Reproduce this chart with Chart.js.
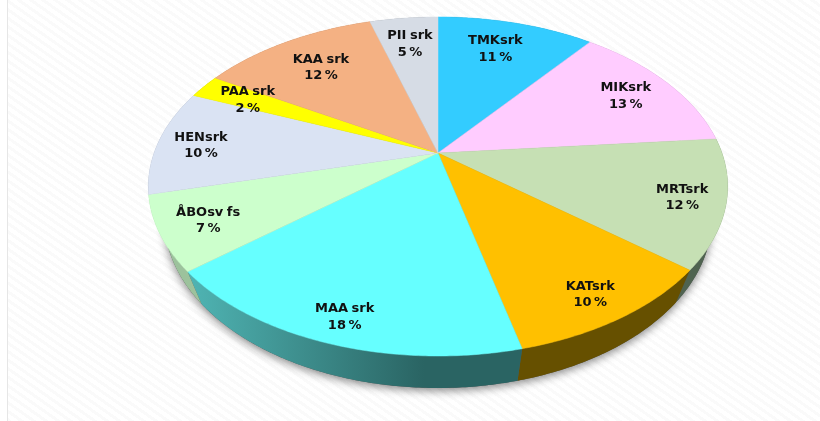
<!DOCTYPE html>
<html>
<head>
<meta charset="utf-8">
<style>
  html, body { margin: 0; padding: 0; background: #fff; }
  #wrap {
    position: relative; width: 820px; height: 421px; overflow: hidden;
    background: repeating-linear-gradient(35deg, #fff 0, #fff 4px, #fafafa 4px, #fafafa 7px);
  }
  #leftEdge { position: absolute; left: 0; top: 0; width: 7px; height: 421px; background: #fff; border-right: 1px solid #e6e6e6; }
  #myChart { position: absolute; left: 0; top: 0; filter: blur(0.4px); }
</style>
</head>
<body>
<div id="wrap">
  <div id="leftEdge"></div>
  <canvas id="myChart" width="820" height="421"></canvas>
</div>
<script src="https://cdn.jsdelivr.net/npm/chart.js@4"></script>
<script>
const categories = ["TMKsrk", "MIKsrk", "MRTsrk", "KATsrk", "MAA srk", "ÅBOsv fs", "HENsrk", "PAA srk", "KAA srk", "PII srk"];
// the labels show them rounded
const shares = [10.6, 13, 12.25, 10.3, 17.85, 7.1, 10.1, 2.25, 11.95, 4.6];

const topColors = ["#33ccff", "#ffccff", "#c6e0b4", "#ffc000", "#66ffff", "#ccffcc", "#dae3f3", "#ffff00", "#f4b183", "#d6dce5"];
const wallColors = ["#1f7a99", "#997a99", "#4f6350", "#665000", "#2a6463", "#9cc29c", "#8a909a", "#999900", "#92694e", "#80848a"];

// where each label sits inside its slice: fraction of radius, nudge in degrees
const labelRadius = [0.78, 0.81, 0.855, 0.865, 0.876, 0.838, 0.846, 0.802, 0.756, 0.791];
const labelNudge = [-1.8, -0.1, 0.1, 0.4, 0, 0.2, -0.2, 0.2, 0.5, 0.0];

// the pie is seen in perspective, so the apex is not the middle of the ellipse
const apexX = 438, apexY = 153;
const scaleX = 284, scaleY = 162.9, tilt = -0.1976;
const depth = 32, lowerShrink = 0.945;

function project(angle, r) {
  const x = Math.cos(angle) * r;
  const y = Math.sin(angle) * r;
  const d = 1 + tilt * y;
  return { x: apexX + scaleX * x / d, y: apexY + scaleY * y / d };
}

function lower(p) {
  return { x: apexX + (p.x - apexX) * lowerShrink, y: p.y + depth };
}

function rimPoints(start, end) {
  let pts = [];
  let steps = Math.max(2, Math.ceil((end - start) / 0.01));
  for (let i = 0; i <= steps; i++) {
    pts.push(project(start + (end - start) * i / steps, 1));
  }
  return pts;
}

function tracePoly(ctx, pts) {
  ctx.beginPath();
  pts.forEach((p, i) => {
    if (i == 0) ctx.moveTo(p.x, p.y);
    else ctx.lineTo(p.x, p.y);
  });
  ctx.closePath();
}

const perspectivePie = {
  id: "perspectivePie",
  beforeDatasetDraw(chart) {
    const ctx = chart.ctx;
    const arcs = chart.getDatasetMeta(0).data;

    // soft shadow under the rim
    ctx.save();
    ctx.shadowColor = "rgba(0,0,0,0.45)";
    ctx.shadowBlur = 9;
    ctx.shadowOffsetY = 3;
    ctx.fillStyle = "#555";
    tracePoly(ctx, rimPoints(0, Math.PI * 2).map(lower));
    ctx.fill();
    ctx.restore();

    // walls
    arcs.forEach((arc, i) => {
      const top = rimPoints(arc.startAngle, arc.endAngle);
      const bottom = top.map(lower).reverse();
      let fill = wallColors[i];
      if (categories[i] == "MAA srk") {
        const grad = ctx.createLinearGradient(190, 0, 450, 0);
        grad.addColorStop(0, "#4fb4b3");
        grad.addColorStop(0.9, wallColors[i]);
        grad.addColorStop(1, wallColors[i]);
        fill = grad;
      }
      ctx.fillStyle = fill;
      tracePoly(ctx, top.concat(bottom));
      ctx.fill();
    });

    // top face
    arcs.forEach((arc, i) => {
      const pts = [{ x: apexX, y: apexY }].concat(rimPoints(arc.startAngle, arc.endAngle));
      ctx.fillStyle = arc.options.backgroundColor;
      ctx.strokeStyle = arc.options.backgroundColor;
      ctx.lineWidth = 0.5;
      tracePoly(ctx, pts);
      ctx.fill();
      ctx.stroke();
    });

    // labels
    ctx.fillStyle = "#111";
    ctx.textAlign = "center";
    ctx.textBaseline = "middle";
    ctx.font = "bold 13px 'DejaVu Sans'";
    arcs.forEach((arc, i) => {
      const mid = (arc.startAngle + arc.endAngle) / 2 + labelNudge[i] * Math.PI / 180;
      const p = project(mid, labelRadius[i]);
      ctx.wordSpacing = "-1px";
      ctx.fillText(categories[i], p.x, p.y - 6.5);
      ctx.wordSpacing = "-2px";
      ctx.fillText(Math.round(shares[i]) + " %", p.x, p.y + 10);
    });
    return false;
  }
};

new Chart(document.getElementById("myChart"), {
  type: "pie",
  data: {
    labels: categories,
    datasets: [{ data: shares, backgroundColor: topColors, borderWidth: 0 }]
  },
  options: {
    responsive: false,
    animation: false,
    events: [],
    plugins: { legend: { display: false }, tooltip: { enabled: false } }
  },
  plugins: [perspectivePie]
});
</script>
</body>
</html>
